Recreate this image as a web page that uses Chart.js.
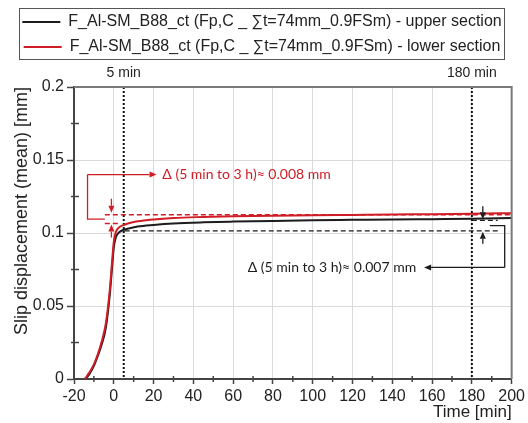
<!DOCTYPE html>
<html>
<head>
<meta charset="utf-8">
<script src="https://cdn.jsdelivr.net/npm/chart.js@4.4.1/dist/chart.umd.min.js"></script>
<style>
  html, body { margin: 0; padding: 0; background: #fff; }
</style>
</head>
<body>
<canvas id="chart" width="528" height="423"></canvas>
<script>
const timeMin = [-14.5, -13, -12, -10, -8, -6, -4, -2, -1, 0, 1, 2, 3, 5, 8, 12, 20, 30, 45, 60, 80, 100, 120, 140, 160, 180, 200];
const upperSection = [0, 0.002, 0.004, 0.009, 0.016, 0.024, 0.035, 0.058, 0.074, 0.090, 0.097, 0.0995, 0.1008, 0.1022, 0.1033, 0.1044, 0.1055, 0.1065, 0.1073, 0.1078, 0.1083, 0.1087, 0.109, 0.1093, 0.1095, 0.1097, 0.1102];
const lowerSection = [0, 0.003, 0.005, 0.010, 0.017, 0.026, 0.038, 0.061, 0.078, 0.094, 0.1005, 0.103, 0.1042, 0.1055, 0.1068, 0.108, 0.1093, 0.1103, 0.111, 0.1115, 0.1119, 0.1121, 0.1124, 0.1127, 0.1129, 0.1132, 0.1136];
const seriesNames = [
    'F_Al-SM_B88_ct (Fp,C _ \u2211t=74mm_0.9FSm) - upper section',
    'F_Al-SM_B88_ct (Fp,C _ \u2211t=74mm_0.9FSm) - lower section'
];

const xTickValues = [-20, 0, 20, 40, 60, 80, 100, 120, 140, 160, 180, 200];
const xMinorTicks = [-10, 10, 30, 50, 70, 90, 110, 130, 150, 170, 190];
const yTickValues = [0, 0.05, 0.1, 0.15, 0.2];
const yMinorTicks = [0.025, 0.075, 0.125, 0.175];

const markerTimes = [5, 180];
const markerLabels = ['5 min', '180 min'];

// slip at 3 h / at 5 min, per section
const lowerLevels = [0.1125, 0.1065];
const upperLevels = [0.1087, 0.1015];
const deltaLabels = ['\u0394 (5 min to 3 h)\u2248 0.008 mm', '\u0394 (5 min to 3 h)\u2248 0.007 mm'];

const BLACK = '#1c1c1c';
const RED = '#d01c24';

function toPoints(values) {
    return timeMin.map((t, i) => ({ x: t, y: values[i] }));
}

function drawArrow(ctx, x1, y1, x2, y2, color) {
    const ang = Math.atan2(y2 - y1, x2 - x1);
    const head = 7, half = 3;
    const bx = x2 - head * Math.cos(ang), by = y2 - head * Math.sin(ang);
    ctx.strokeStyle = color;
    ctx.fillStyle = color;
    ctx.lineWidth = 1.3;
    ctx.setLineDash([]);
    ctx.beginPath();
    ctx.moveTo(x1, y1);
    ctx.lineTo(bx, by);
    ctx.stroke();
    ctx.beginPath();
    ctx.moveTo(x2, y2);
    ctx.lineTo(bx + half * Math.sin(ang), by - half * Math.cos(ang));
    ctx.lineTo(bx - half * Math.sin(ang), by + half * Math.cos(ang));
    ctx.closePath();
    ctx.fill();
}

function polyline(ctx, pts, color, dash) {
    ctx.strokeStyle = color;
    ctx.lineWidth = 1.3;
    ctx.setLineDash(dash || []);
    ctx.beginPath();
    pts.forEach(([px, py], i) => i ? ctx.lineTo(px, py) : ctx.moveTo(px, py));
    ctx.stroke();
}

const overlay = {
    id: 'overlay',
    beforeDatasetsDraw(chart) {
        const { ctx, chartArea: a, scales: { x } } = chart;
        ctx.save();
        ctx.strokeStyle = '#111';
        ctx.lineWidth = 2;
        ctx.setLineDash([2, 2]);
        markerTimes.forEach(t => {
            const px = x.getPixelForValue(t);
            ctx.beginPath();
            ctx.moveTo(px, a.top);
            ctx.lineTo(px, a.bottom);
            ctx.stroke();
        });
        ctx.restore();
    },
    afterDatasetsDraw(chart) {
        const { ctx, scales: { x, y } } = chart;
        const X = v => x.getPixelForValue(v);
        const Y = v => y.getPixelForValue(v);
        ctx.save();
        ctx.font = '14px Lato, "Open Sans", sans-serif';
        ctx.textBaseline = 'middle';

        // lower section (red), left side
        const [rHi, rLo] = lowerLevels;
        const rMid = (rHi + rLo) / 2;
        const rTextY = 0.14;
        polyline(ctx, [[X(-4.5), Y(rHi)], [X(200), Y(rHi)]], RED, [5, 3]);
        polyline(ctx, [[X(-4.5), Y(rLo)], [X(2.5), Y(rLo)]], RED, [5, 3]);
        polyline(ctx, [[X(-13.2), Y(rTextY)], [X(-13.2), Y(rMid)], [X(-4.5), Y(rMid)]], RED);
        drawArrow(ctx, X(-13.2), Y(rTextY), X(21.5), Y(rTextY), RED);
        drawArrow(ctx, X(-1.2), Y(rHi) - 16, X(-1.2), Y(rHi) - 2, RED);
        drawArrow(ctx, X(-1.2), Y(rLo) + 14, X(-1.2), Y(rLo) + 1, RED);
        ctx.fillStyle = RED;
        ctx.textAlign = 'left';
        ctx.fillText(deltaLabels[0], X(24.4), Y(rTextY));

        // upper section (black), right side
        const [bHi, bLo] = upperLevels;
        const bMid = (bHi + bLo) / 2;
        const bTextY = 0.0764;
        polyline(ctx, [[X(5.5), Y(bLo)], [X(193), Y(bLo)]], BLACK, [5, 3]);
        polyline(ctx, [[X(180), Y(bHi)], [X(193), Y(bHi)]], BLACK, [5, 3]);
        polyline(ctx, [[X(189), Y(bMid)], [X(196.5), Y(bMid)], [X(196.5), Y(bTextY)]], BLACK);
        drawArrow(ctx, X(196.5), Y(bTextY), X(156), Y(bTextY), BLACK);
        drawArrow(ctx, X(185.5), Y(bHi) - 14, X(185.5), Y(bHi) - 1, BLACK);
        drawArrow(ctx, X(185.5), Y(bLo) + 13, X(185.5), Y(bLo) + 1, BLACK);
        ctx.fillStyle = BLACK;
        ctx.textAlign = 'right';
        ctx.fillText(deltaLabels[1], X(152), Y(bTextY));
        ctx.restore();
    },
    afterDraw(chart) {
        const { ctx, chartArea: a, scales: { x, y } } = chart;
        ctx.save();
        // frame on top and right
        ctx.strokeStyle = '#7a7a7a';
        ctx.lineWidth = 2;
        ctx.beginPath();
        ctx.moveTo(a.left, a.top);
        ctx.lineTo(a.right, a.top);
        ctx.lineTo(a.right, a.bottom);
        ctx.stroke();

        // minor ticks
        ctx.strokeStyle = '#444';
        ctx.lineWidth = 1.5;
        xMinorTicks.forEach(v => {
            const px = x.getPixelForValue(v);
            ctx.beginPath();
            ctx.moveTo(px, a.bottom - 3);
            ctx.lineTo(px, a.bottom + 3);
            ctx.stroke();
        });
        yMinorTicks.forEach(v => {
            const py = y.getPixelForValue(v);
            ctx.beginPath();
            ctx.moveTo(a.left - 3, py);
            ctx.lineTo(a.left + 5, py);
            ctx.stroke();
        });

        // box round the legend
        const boxes = chart.legend.legendHitBoxes;
        const last = boxes[boxes.length - 1];
        const l = Math.min(...boxes.map(b => b.left)) - 3;
        const r = Math.max(...boxes.map(b => b.left + b.width)) + 3;
        const t = boxes[0].top - 6;
        const b = last.top + last.height + 4;
        ctx.strokeStyle = '#555';
        ctx.lineWidth = 1;
        ctx.strokeRect(Math.round(l) + 0.5, Math.round(t) + 0.5, Math.round(r - l), Math.round(b - t));
        ctx.restore();
    }
};

Chart.defaults.font.family = 'Arial, "Liberation Sans", sans-serif';
Chart.defaults.color = '#222';

new Chart(document.getElementById('chart'), {
    type: 'line',
    data: {
        datasets: [{
            label: seriesNames[0],
            data: toPoints(upperSection),
            borderColor: BLACK,
            backgroundColor: BLACK,
            borderWidth: 2,
            order: 1
        },
        {
            label: seriesNames[1],
            data: toPoints(lowerSection),
            borderColor: RED,
            backgroundColor: RED,
            borderWidth: 2,
            order: 0
        }]
    },
    options: {
        responsive: false,
        animation: false,
        layout: { padding: { top: 5, right: 13, bottom: 0, left: 9 } },
        elements: {
            point: { radius: 0 },
            line: { cubicInterpolationMode: 'monotone', fill: false }
        },
        plugins: {
            tooltip: { enabled: false },
            legend: {
                position: 'top',
                labels: {
                    usePointStyle: true,
                    pointStyle: 'line',
                    pointStyleWidth: 38,
                    padding: 9,
                    font: { size: 16 },
                    color: '#222',
                    sort: (a, b) => a.datasetIndex - b.datasetIndex
                }
            }
        },
        scales: {
            x: {
                type: 'linear',
                min: -20,
                max: 200,
                afterBuildTicks: s => { s.ticks = xTickValues.map(value => ({ value })); },
                afterFit: s => { s.height = 44; },
                ticks: { font: { size: 16 }, padding: 3, maxRotation: 0, autoSkip: false, callback: v => String(v) },
                grid: { color: '#dadada', tickLength: 5, tickColor: '#444', tickWidth: 1.5 },
                border: { color: '#444', width: 2 },
                title: { display: true, text: 'Time [min]', align: 'end', font: { size: 17 }, padding: 0 }
            },
            xTop: {
                type: 'linear',
                position: 'top',
                min: -20,
                max: 200,
                afterBuildTicks: s => { s.ticks = markerTimes.map(value => ({ value })); },
                afterFit: s => { s.height = 22; },
                ticks: { font: { size: 14 }, padding: 5, maxRotation: 0, autoSkip: false,
                    callback: v => markerLabels[markerTimes.indexOf(v)] },
                grid: { display: false, drawTicks: false },
                border: { display: false }
            },
            y: {
                min: 0,
                max: 0.2,
                afterBuildTicks: s => { s.ticks = yTickValues.map(value => ({ value })); },
                afterFit: s => { s.width = 65; },
                ticks: { font: { size: 16 }, padding: 3, callback: v => String(v) },
                grid: { color: '#dadada', tickLength: 7, tickColor: '#444', tickWidth: 1.5 },
                border: { color: '#444', width: 2 },
                title: { display: true, text: 'Slip displacement (mean) [mm]', align: 'end', font: { size: 18 }, padding: { top: 2, bottom: 0 } }
            }
        }
    },
    plugins: [overlay]
});
</script>
</body>
</html>
